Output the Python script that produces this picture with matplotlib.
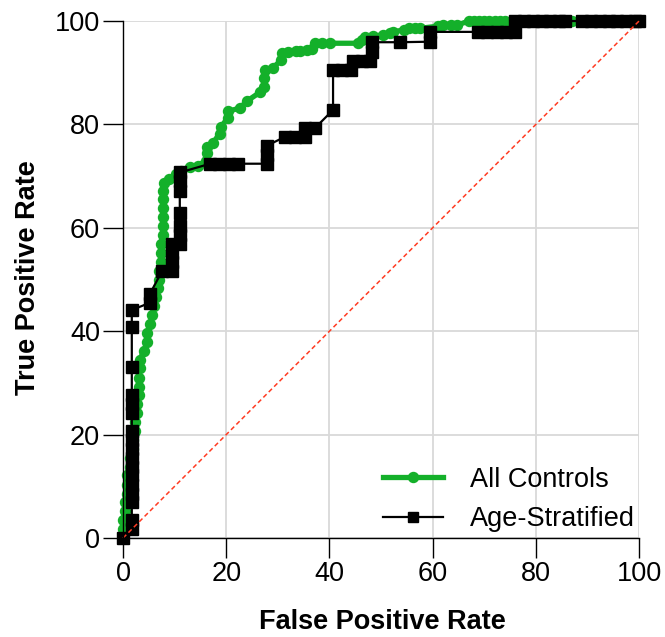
import matplotlib
matplotlib.use("Agg")
import matplotlib.pyplot as plt

plt.rcParams['font.family'] = ['Liberation Sans', 'DejaVu Sans']

# All Controls ROC (FPR %, TPR %)
all_fpr = [0, 0, 0, 0.3, 0.3, 0.7, 0.7, 0.7, 1.3, 1.3, 2.0, 2.0, 2.3, 2.3, 2.7, 2.7,
           3.0, 3.0, 3.0, 3.3, 3.3, 4.0, 4.7, 4.7, 5.3, 5.7, 6.0, 6.3, 6.7, 7.0, 7.0,
           7.3, 7.3, 7.3, 7.7, 7.7, 7.7, 7.7, 7.7, 7.7, 8.0, 9.0, 10.3, 11.3, 13.0,
           14.5, 16.0, 16.3, 16.3, 17.5, 18.7, 19.0, 20.3, 20.3, 22.7, 24.0, 26.5,
           27.3, 27.3, 27.5, 29.0, 30.7, 30.8, 32.0, 33.5, 34.3, 35.7, 36.6, 37.2,
           38.5, 40.1, 45.5, 46.3, 46.9, 48.5, 50.4, 51.7, 52.3, 54.5, 55.5, 56.5,
           57.6, 61.0, 62.0, 63.5, 64.7, 67.0, 68.0, 69.0, 70.0, 71.0, 72.0, 73.0,
           74.0, 87.0, 100.0]
all_tpr = [0, 1.7, 3.4, 5.2, 6.9, 8.6, 10.3, 12.1, 13.8, 15.5, 17.2, 19.0, 20.7, 22.4,
           24.1, 25.9, 27.6, 29.3, 31.0, 32.8, 34.5, 36.2, 37.9, 39.7, 41.4, 43.1,
           44.8, 46.6, 48.3, 50.0, 51.7, 53.4, 55.2, 56.9, 58.6, 60.3, 62.1, 63.8,
           65.5, 67.2, 68.6, 69.5, 70.5, 71.0, 71.8, 72.0, 73.0, 74.5, 75.6, 76.5,
           78.2, 79.5, 81.3, 82.5, 83.2, 84.5, 86.2, 87.2, 89.0, 90.5, 90.9, 92.5,
           93.8, 94.0, 94.2, 94.2, 94.4, 94.6, 95.7, 95.7, 95.7, 95.7, 96.3, 96.9,
           97.1, 97.3, 97.7, 97.9, 98.3, 98.6, 98.6, 98.6, 99.0, 99.2, 99.2, 99.2,
           100, 100, 100, 100, 100, 100, 100, 100, 100, 100]

# Age-Stratified ROC (FPR %, TPR %)
age_fpr = [0, 1.7, 1.7, 1.7, 1.7, 1.7, 1.7, 1.7, 1.7, 1.7, 1.7, 1.7, 1.7, 1.7, 1.7,
           1.7, 1.7, 1.7, 5.2, 5.2, 7.6, 9.4, 9.4, 9.4, 9.4, 11.0, 11.0, 11.0, 11.0,
           11.0, 11.0, 11.0, 16.9, 18.6, 20.6, 22.3, 27.9, 27.9, 27.9, 31.4, 33.3,
           35.3, 35.3, 37.2, 40.7, 40.7, 42.4, 44.1, 44.6, 46.3, 47.9, 48.3, 48.3,
           53.7, 59.5, 59.5, 68.8, 70.6, 72.4, 74.2, 76.0, 76.0, 77.7, 79.4, 81.1,
           82.8, 84.5, 85.7, 89.0, 90.7, 92.4, 94.1, 95.8, 97.5, 99.2, 100.0]
age_tpr = [0, 1.7, 3.4, 6.9, 8.6, 10.3, 12.1, 13.8, 15.5, 17.2, 19.0, 20.7, 24.1,
           25.9, 27.6, 33.1, 40.8, 44.1, 45.5, 47.2, 51.7, 51.7, 53.4, 55.2, 56.9,
           56.9, 58.6, 60.3, 62.9, 67.2, 69.0, 70.7, 72.4, 72.4, 72.4, 72.4, 72.4,
           74.1, 75.9, 77.6, 77.6, 77.6, 79.3, 79.3, 82.8, 90.5, 90.5, 90.5, 92.2,
           92.2, 92.2, 94.0, 95.9, 95.9, 96.0, 97.9, 97.9, 97.9, 97.9, 97.9, 97.9,
           100, 100, 100, 100, 100, 100, 100, 100, 100, 100, 100, 100, 100, 100, 100]

ref_line = [0, 100]
x_ticks = [0, 20, 40, 60, 80, 100]
y_ticks = [0, 20, 40, 60, 80, 100]

GREEN = '#14B02A'

fig = plt.figure(figsize=(6.65, 6.37), dpi=100)
ax = fig.add_axes([0.185, 0.1554, 0.776, 0.8116])

ax.plot(all_fpr, all_tpr, color=GREEN, lw=3.8, marker='o', ms=7.2,
        label='All Controls', zorder=3, clip_on=False)
ax.plot(age_fpr, age_tpr, color='black', lw=1.6, marker='s', ms=8,
        label='Age-Stratified', zorder=4, clip_on=False)
ax.plot(ref_line, ref_line, color='#FF3B22', lw=1.1, ls=(0, (3, 2)), zorder=5,
        clip_on=False)

ax.set_xlim(0, 100)
ax.set_ylim(0, 100)
ax.set_xticks(x_ticks)
ax.set_yticks(y_ticks)
ax.grid(True, color='#d9d9d9', lw=1.3, zorder=0)
ax.set_axisbelow(True)
for s in ['top', 'right']:
    ax.spines[s].set_visible(False)
for s in ['left', 'bottom']:
    ax.spines[s].set_linewidth(1.0)
    ax.spines[s].set_zorder(6)
ax.tick_params(axis='both', length=14.5, width=1.0, labelsize=19.5, pad=2,
               color='black')

ax.set_xlabel('False Positive Rate', fontsize=19.5, fontweight='bold')
ax.set_ylabel('True Positive Rate', fontsize=19.5, fontweight='bold')
ax.xaxis.set_label_coords(0.502, -0.137)
ax.yaxis.set_label_coords(-0.159, 0.503)

leg = ax.legend(loc='upper left', frameon=False, fontsize=19.5,
                handlelength=2.2, handletextpad=1.0, labelspacing=0.5,
                borderpad=0, borderaxespad=0,
                bbox_to_anchor=(0.504, 0.138))
leg.legend_handles[1].set_markersize(7)

fig.savefig('out.png', dpi=100)
